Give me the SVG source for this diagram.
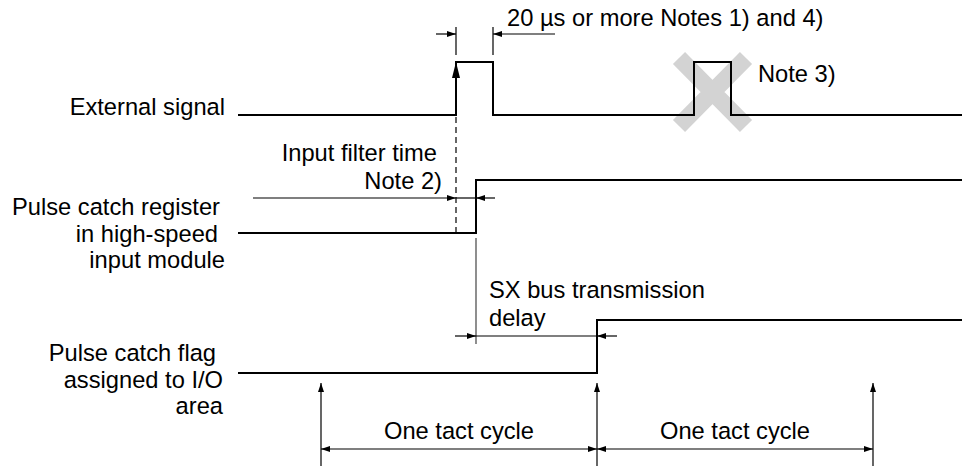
<svg xmlns="http://www.w3.org/2000/svg" width="962" height="470" viewBox="0 0 962 470">
<defs>
<style>
text{font-family:"Liberation Sans",Arial,sans-serif;font-size:23.7px;fill:#000}
.sig{fill:none;stroke:#000;stroke-width:2;stroke-linejoin:miter}
.dim{fill:none;stroke:#000;stroke-width:1.2}
.ext{fill:none;stroke:#444;stroke-width:1.2}
.arr{marker-end:url(#ah)}
.arr2{marker-start:url(#ah);marker-end:url(#ah)}
</style>
<marker id="ah" markerUnits="userSpaceOnUse" markerWidth="9" markerHeight="6" refX="9" refY="3" orient="auto-start-reverse">
<path d="M0,0 L9,3 L0,6 z" fill="#000"/>
</marker>
</defs>
<rect width="962" height="470" fill="#fff"/>

<g id="labels">
<text x="225" y="115" text-anchor="end">External signal</text>
<text x="220" y="215" text-anchor="end">Pulse catch register</text>
<text x="218" y="242" text-anchor="end">in high-speed</text>
<text x="225" y="268" text-anchor="end">input module</text>
<text x="216" y="361" text-anchor="end">Pulse catch flag</text>
<text x="223" y="388" text-anchor="end">assigned to I/O</text>
<text x="223" y="414" text-anchor="end">area</text>
</g>

<g id="note3-cross">
<path d="M679,58 L746,126 M746,58 L679,126" stroke="#d3d3d3" stroke-width="17" fill="none"/>
</g>

<g id="external-signal">
<polyline class="sig" points="238,115 456,115 456,62 493,62 493,115 694,115 694,62 731,62 731,115 962,115"/>
<polygon points="456,62 452,78 460,78" fill="#000"/>
</g>

<g id="pulse-catch-register">
<polyline class="sig" points="238,233 476,233 476,180 962,180"/>
</g>

<g id="pulse-catch-flag">
<polyline class="sig" points="238,373 597,373 597,320 962,320"/>
</g>

<g id="connectors">
<!-- 20 us dimension -->
<line class="dim" x1="456" y1="27" x2="456" y2="55"/>
<line class="dim" x1="493" y1="27" x2="493" y2="55"/>
<line class="dim arr" x1="436" y1="34" x2="456" y2="34"/>
<line class="dim arr" x1="555" y1="34" x2="493" y2="34"/>
<!-- input filter time -->
<line class="dim" x1="456" y1="117" x2="456" y2="237" stroke-dasharray="6,4" stroke-width="1.6"/>
<line class="dim arr" x1="253" y1="198" x2="456" y2="198"/>
<line class="dim" x1="456" y1="198" x2="476" y2="198"/>
<line class="dim arr" x1="495" y1="198" x2="476" y2="198"/>
<!-- SX bus delay -->
<line class="ext" x1="476" y1="238" x2="476" y2="344"/>
<line class="dim arr" x1="455" y1="336" x2="476" y2="336"/>
<line class="dim" x1="476" y1="336" x2="597" y2="336"/>
<line class="dim arr" x1="617" y1="336" x2="597" y2="336"/>
<!-- tact cycles -->
<line class="dim arr" x1="321" y1="466" x2="321" y2="383"/>
<line class="dim arr" x1="597" y1="466" x2="597" y2="383"/>
<line class="dim arr" x1="873" y1="466" x2="873" y2="383"/>
<line class="dim arr2" x1="321" y1="449" x2="597" y2="449"/>
<line class="dim arr2" x1="597" y1="449" x2="873" y2="449"/>
</g>

<g id="annotations">
<text x="507" y="26">20 µs or more Notes 1) and 4)</text>
<text x="758" y="82">Note 3)</text>
<text x="437" y="161" text-anchor="end">Input filter time</text>
<text x="442" y="189" text-anchor="end">Note 2)</text>
<text x="489" y="298">SX bus transmission</text>
<text x="489" y="326">delay</text>
<text x="459" y="439" text-anchor="middle">One tact cycle</text>
<text x="735" y="439" text-anchor="middle">One tact cycle</text>
</g>
</svg>
